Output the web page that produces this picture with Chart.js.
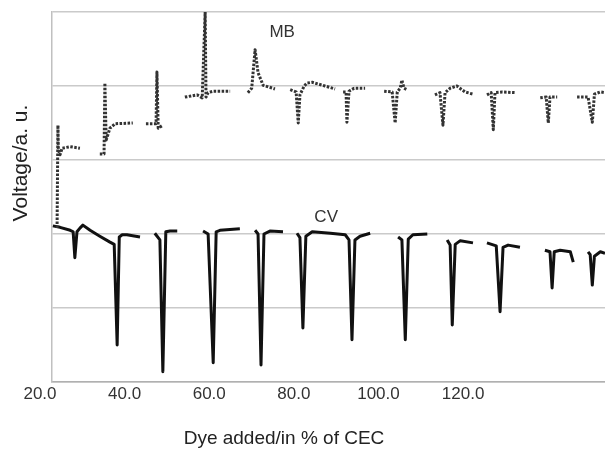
<!DOCTYPE html>
<html>
<head>
<meta charset="utf-8">
<script src="https://cdn.jsdelivr.net/npm/chart.js@4"></script>
<style>
  html, body { margin: 0; padding: 0; background: #fff; }
  #wrap { width: 605px; height: 450px; }
</style>
</head>
<body>
<div id="wrap"><canvas id="chart"></canvas></div>
<script>
// x ticks shown on the axis
const xTicks = [20, 40, 60, 80, 100, 120];

// MB trace (null = pause between additions)
const mbX = [21.2, 21.4, 21.5, 21.9, 22.4, 24.3, 26.6, null,
  31.3, 32.3, 32.5, 32.8, 33.2, 33.7, 34.9, 39.1, null,
  42.2, 44.6, 44.8, 45.1, 46.2, null,
  51.4, 54.3, 55.5, 56.2, 56.4, 56.9, 58.1, 62.1, null,
  66.3, 67.2, 68.0, 68.7, 69.9, 72.7, null,
  76.3, 77.7, 78.2, 78.6, 79.6, 80.3, 81.5, 84.5, 86.9, null,
  88.8, 89.5, 89.7, 90.2, 91.4, 94.0, null,
  98.5, 100.4, 101.1, 101.6, 102.3, 102.7, 103.2, 103.9, null,
  110.5, 111.7, 112.4, 112.9, 114.1, 115.7, 117.6, 119.5, null,
  122.8, 123.8, 124.3, 124.7, 126.4, 129.5, null,
  135.4, 136.8, 137.3, 137.7, 139.4, null,
  144.1, 146.7, 147.7, 148.2, 149.6, 150.7];
const mbY = [2.08, 3.47, 3.14, 3.07, 3.16, 3.18, 3.16, null,
  3.08, 3.08, 4.04, 3.27, 3.34, 3.43, 3.49, 3.50, null,
  3.49, 3.49, 4.19, 3.43, 3.47, null,
  3.85, 3.88, 3.84, 5.0, 3.85, 3.91, 3.93, 3.93, null,
  3.91, 3.97, 4.49, 4.18, 4.01, 3.96, null,
  3.95, 3.92, 3.50, 3.88, 4.00, 4.04, 4.05, 4.00, 3.96, null,
  3.92, 3.92, 3.51, 3.93, 3.97, 3.97, null,
  3.93, 3.92, 3.50, 3.92, 3.97, 4.08, 3.97, 3.95, null,
  3.88, 3.91, 3.47, 3.91, 3.97, 4.00, 3.92, 3.89, null,
  3.88, 3.91, 3.41, 3.91, 3.92, 3.91, null,
  3.84, 3.85, 3.50, 3.85, 3.85, null,
  3.85, 3.85, 3.51, 3.89, 3.92, 3.91];

// CV trace
const cvX = [20.2, 21.9, 24.3, 25.0, 25.4, 25.9, 26.6, 27.3, 29.0, 31.3, 33.7, 34.7, 35.4, 35.9, 36.6, 37.7, 40.8, null,
  44.3, 45.5, 46.2, 46.9, 47.9, 49.6, null,
  55.7, 56.9, 58.1, 58.8, 59.7, 64.4, null,
  68.0, 68.7, 69.4, 70.1, 71.5, 74.6, null,
  77.9, 78.6, 79.3, 80.0, 81.5, 85.8, 89.3, 90.2, 90.9, 91.6, 92.8, 95.2, null,
  101.8, 102.7, 103.5, 104.2, 105.3, 108.7, null,
  113.4, 114.1, 114.6, 115.3, 116.5, 119.5, null,
  122.8, 125.0, 125.9, 126.6, 127.8, 130.6, null,
  136.5, 137.7, 138.2, 138.7, 140.1, 142.5, 143.2, null,
  146.7, 147.2, 147.7, 148.2, 149.6, 150.7];
const cvY = [2.11, 2.09, 2.05, 2.03, 1.68, 2.03, 2.08, 2.12, 2.05, 1.97, 1.89, 1.86, 0.50, 1.96, 1.99, 1.99, 1.96, null,
  2.01, 1.92, 0.14, 2.03, 2.04, 2.04, null,
  2.04, 2.00, 0.26, 2.03, 2.05, 2.07, null,
  2.05, 2.00, 0.23, 2.00, 2.04, 2.03, null,
  2.01, 1.95, 0.73, 1.97, 2.03, 2.01, 1.99, 1.92, 0.57, 1.92, 1.97, 2.01, null,
  1.96, 1.92, 0.57, 1.93, 1.99, 2.00, null,
  1.92, 1.85, 0.77, 1.86, 1.91, 1.88, null,
  1.88, 1.84, 0.95, 1.82, 1.85, 1.82, null,
  1.78, 1.76, 1.27, 1.76, 1.78, 1.76, 1.62, null,
  1.76, 1.72, 1.31, 1.70, 1.76, 1.74];

// in-plot labels (data coords)
const traceLabels = [
  { text: 'MB', x: 74.4, y: 4.72 },
  { text: 'CV', x: 84.8, y: 2.23 }
];

function toPoints(xs, ys) {
  let lastX = xs[0];
  return xs.map((x, i) => {
    if (x == null) return { x: lastX, y: null };
    lastX = x;
    return { x, y: ys[i] };
  });
}

const FONT = 'Liberation Sans, Arial, sans-serif';

const textPlugin = {
  id: 'texts',
  afterDraw(chart) {
    const { ctx, scales: { x, y } } = chart;
    ctx.save();
    ctx.fillStyle = '#333';
    ctx.textAlign = 'center';
    ctx.textBaseline = 'middle';
    ctx.font = '17px ' + FONT;
    traceLabels.forEach(l => ctx.fillText(l.text, x.getPixelForValue(l.x), y.getPixelForValue(l.y)));
    // axis titles
    ctx.fillStyle = '#222';
    ctx.font = '19px ' + FONT;
    ctx.fillText('Dye added/in % of CEC', 284, 439);
    ctx.translate(21, 163);
    ctx.rotate(-Math.PI / 2);
    ctx.font = '21px ' + FONT;
    ctx.fillText('Voltage/a. u.', 0, 0);
    ctx.restore();
  }
};

new Chart(document.getElementById('chart'), {
  type: 'line',
  data: {
    datasets: [{
      label: 'MB',
      data: toPoints(mbX, mbY),
      borderColor: '#333',
      borderWidth: 3,
      borderDash: [2.5, 1.5],
      borderJoinStyle: 'round',
      pointRadius: 0,
      tension: 0,
      spanGaps: false
    }, {
      label: 'CV',
      data: toPoints(cvX, cvY),
      borderColor: '#111',
      borderWidth: 3,
      borderJoinStyle: 'round',
      pointRadius: 0,
      tension: 0,
      spanGaps: false
    }]
  },
  options: {
    responsive: true,
    maintainAspectRatio: false,
    animation: false,
    layout: { padding: { top: 12, right: 0, left: 0, bottom: 0 } },
    scales: {
      x: {
        type: 'linear',
        min: 20,
        max: 150.7,
        afterBuildTicks: s => { s.ticks = xTicks.map(v => ({ value: v })); },
        afterFit: s => { s.height = 68; },
        grid: { display: false, drawTicks: false },
        border: { color: '#b0b0b0', width: 1.5 },
        ticks: {
          padding: 2,
          labelOffset: -12,
          maxRotation: 0,
          color: '#333',
          font: { family: FONT, size: 17 },
          callback: v => Number(v).toFixed(1)
        }
      },
      y: {
        min: 0,
        max: 5,
        afterFit: s => { s.width = 52; },
        ticks: { display: false, stepSize: 1 },
        grid: { color: '#cacaca', lineWidth: 1.5, drawTicks: false },
        border: { color: '#c0c0c0', width: 1.5 }
      }
    },
    plugins: {
      legend: { display: false },
      tooltip: { enabled: false }
    }
  },
  plugins: [textPlugin]
});
</script>
</body>
</html>
